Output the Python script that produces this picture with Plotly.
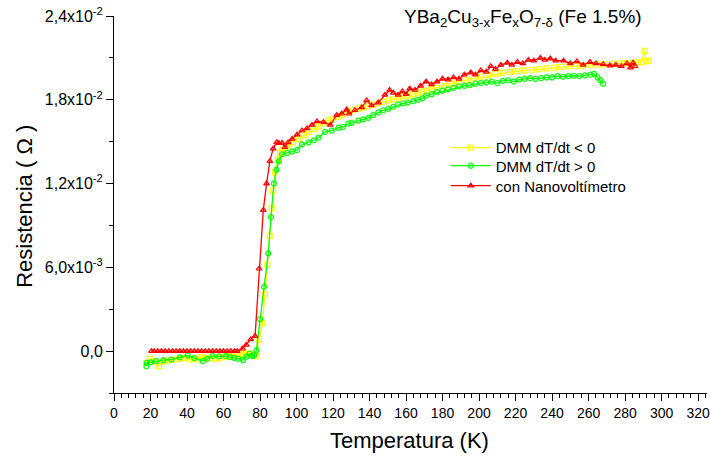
import plotly.graph_objects as go

# Temperature (K) and resistance (in units of 1e-3 ohm)
yellow_T = [17.8, 19.6, 22.3, 24.7, 27.8, 30.5, 33.2, 36, 38.6, 41.4, 43.5, 45.9, 47.7, 50, 52.2, 55, 57.5, 60.4, 63, 65.8,
            68, 70.4, 72, 74, 76, 78, 79.5, 81.3, 82.7, 84, 85.3, 86.4, 87.2, 88.2, 89.8, 90.9, 92, 93, 94.5, 95.8,
            98, 101.2, 104, 106.7, 109.5, 112.1, 115, 117.5, 120, 123, 125.5, 128.4, 131, 133.9, 136.5, 139.3, 142, 144.8, 147.5, 150.2,
            153, 155.6, 158.5, 161, 164, 166.5, 169, 171, 174, 177, 181, 185, 189, 193, 197, 201, 205, 209, 213, 217,
            221, 225, 229, 233, 237, 241, 245, 249, 253, 257, 261, 265, 269, 273, 277, 281, 284, 287, 289, 290.8, 291.5, 293]
yellow_R = [-0.84, -0.55, -0.72, -1.08, -0.72, -0.65, -0.6, -0.55, -0.48, -0.6, -0.55, -0.6, -0.43, -0.5, -0.48, -0.55, -0.5, -0.43, -0.35, -0.24,
            -0.3, -0.24, -0.2, -0.17, -0.25, -0.36, 0.84, 2.0, 4.07, 6.2, 8.25, 10.24, 11.5, 12.8, 13.7, 14.2, 14.4, 14.6, 14.7, 14.8,
            14.95, 15.2, 15.45, 15.7, 15.9, 16.1, 16.3, 16.5, 16.6, 16.8, 16.95, 17.1, 17.25, 17.35, 17.45, 17.55, 17.65, 17.75, 17.85, 17.95,
            18.05, 18.15, 18.25, 18.3, 18.4, 18.5, 18.6, 18.65, 18.75, 18.85, 19.0, 19.15, 19.3, 19.4, 19.55, 19.65, 19.75, 19.85, 19.95, 20.0,
            20.05, 20.1, 20.15, 20.2, 20.25, 20.3, 20.35, 20.4, 20.42, 20.45, 20.5, 20.52, 20.55, 20.58, 20.6, 20.62, 20.65, 20.68, 20.7, 21.5, 20.75, 20.8]

green_T = [17.8, 17.9, 20, 23.2, 27, 31.4, 36, 40.4, 44, 48.6, 51, 54, 57.5, 61.3, 63.5, 65.8, 68, 70.7, 72.5, 74.4,
           75.8, 76.8, 78, 80, 82.2, 84.5, 86, 87.6, 89, 90.3, 92.1, 94.9, 97.6, 100.3, 103, 106.7, 109.5, 112.1, 115.7, 119.3,
           123, 125.5, 128.4, 130.2, 133.9, 136.5, 139.3, 142, 144.8, 147.5, 150.2, 153, 155.6, 158.5, 161, 164, 166.5, 169, 171, 174,
           177, 180, 183, 186, 189, 192, 195, 198, 201, 204, 207, 210, 213, 216, 219, 222, 225, 228, 231, 234,
           237, 240, 243, 246, 249, 252, 255, 258, 261, 263, 265, 266.5, 268]
green_R = [-1.08, -0.84, -0.8, -0.72, -0.65, -0.6, -0.45, -0.31, -0.5, -0.72, -0.55, -0.36, -0.38, -0.36, -0.42, -0.48, -0.55, -0.65, -0.4, -0.17,
           -0.36, -0.3, 0.05, 2.3, 4.6, 7.0, 9.6, 12.0, 13.0, 13.6, 14.1, 14.2, 14.3, 14.4, 14.8, 14.95, 15.1, 15.3, 15.7, 15.8,
           16.0, 16.05, 16.3, 16.35, 16.5, 16.6, 16.7, 16.9, 17.1, 17.25, 17.35, 17.5, 17.65, 17.75, 17.8, 17.9, 18.0, 18.1, 18.3, 18.4,
           18.55, 18.65, 18.75, 18.85, 18.95, 19.0, 19.05, 19.15, 19.2, 19.25, 19.3, 19.2, 19.35, 19.4, 19.3, 19.45, 19.5, 19.55, 19.5, 19.55,
           19.6, 19.6, 19.7, 19.65, 19.7, 19.72, 19.7, 19.75, 19.8, 19.85, 19.6, 19.4, 19.15]

red_T = [20.5, 22, 24, 26, 28, 30, 32, 34, 36, 38, 40, 42, 44, 46, 48, 50, 52, 54, 56, 58,
         60, 62, 64, 66, 67.5, 70.4, 72.5, 74.9, 77.3, 79.5, 81.8, 83.6, 85.4, 87.2, 89.1, 90.3, 92.1, 93.6, 95.4, 97.6,
         100.3, 103, 105.7, 108.5, 111.2, 114.8, 118.5, 122, 124.8, 127.5, 128.8, 132, 135.7, 138.4, 141.1, 144.8, 148.4, 151, 153, 155.6,
         158, 160, 162, 165, 168, 171, 174, 177, 180, 183, 186, 189, 192, 195.5, 198, 201, 204, 206.4, 209, 212,
         215.5, 218, 221, 224, 227, 230, 233.6, 236, 239, 242, 246.3, 250, 253.6, 257, 260.8, 264, 268, 271.7, 275, 278,
         281, 283, 284.4, 285.5]
red_R = [0.0, 0.0, 0.0, 0.0, 0.0, 0.0, 0.0, 0.0, 0.0, 0.0, 0.0, 0.0, 0.0, 0.0, 0.0, 0.0, 0.0, 0.0, 0.0, 0.0,
         0.0, 0.0, 0.0, 0.0, 0.0, 0.17, 0.45, 0.84, 1.08, 5.9, 10.1, 12.0, 13.6, 14.5, 14.95, 14.9, 14.9, 14.6, 14.95, 15.2,
         15.5, 15.8, 15.95, 16.2, 16.45, 16.4, 16.2, 16.9, 17.0, 17.3, 17.0, 17.25, 17.45, 17.95, 17.6, 17.8, 18.35, 18.7, 18.5, 18.35,
         18.6, 18.4, 18.8, 18.7, 19.0, 19.3, 19.1, 19.3, 19.5, 19.45, 19.6, 19.5, 19.8, 19.95, 19.8, 20.1, 20.0, 20.4, 20.2, 20.5,
         20.65, 20.5, 20.7, 20.6, 20.85, 20.8, 21.0, 20.85, 20.95, 20.8, 20.8, 20.6, 20.75, 20.5, 20.7, 20.6, 20.55, 20.45, 20.5, 20.4,
         20.6, 20.3, 20.65, 20.4]

x_ticks = [0, 20, 40, 60, 80, 100, 120, 140, 160, 180, 200, 220, 240, 260, 280, 300, 320]
y_tick_vals = [0.0, 0.006, 0.012, 0.018, 0.024]
y_tick_text = ["0,0", "6,0x10<sup>-3</sup>", "1,2x10<sup>-2</sup>", "1,8x10<sup>-2</sup>", "2,4x10<sup>-2</sup>"]

series_names = ["DMM dT/dt < 0", "DMM dT/dt > 0", "con Nanovoltímetro"]

UNIT = 1e-3
fig = go.Figure()
fig.add_trace(go.Scatter(x=yellow_T, y=[v * UNIT for v in yellow_R], name=series_names[0], mode="lines+markers",
                         legend="legend",
                         line=dict(color="#FFFF00", width=1.3),
                         marker=dict(symbol="square-open", size=5, color="#FFFF00", line=dict(width=1.2))))
fig.add_trace(go.Scatter(x=green_T, y=[v * UNIT for v in green_R], name=series_names[1], mode="lines+markers",
                         legend="legend2",
                         line=dict(color="#00FF00", width=1.3),
                         marker=dict(symbol="circle-open", size=5, color="#00FF00", line=dict(width=1.2))))
fig.add_trace(go.Scatter(x=red_T, y=[v * UNIT for v in red_R], name=series_names[2], mode="lines+markers",
                         legend="legend3",
                         line=dict(color="#FF0000", width=1.3),
                         marker=dict(symbol="triangle-up-open", size=5, color="#FF0000", line=dict(width=1.2))))

leg_common = dict(xanchor="left", yanchor="top", bgcolor="rgba(0,0,0,0)", font=dict(size=15), itemwidth=40)

fig.update_layout(
    width=710, height=461,
    margin=dict(l=114, r=3, t=16, b=68, autoexpand=False),
    paper_bgcolor="white", plot_bgcolor="white",
    font=dict(family="Arial, Liberation Sans, sans-serif", color="black", size=14),
    showlegend=True,
    legend=dict(x=0.5595, y=0.694, **leg_common),
    legend2=dict(x=0.5595, y=0.646, **leg_common),
    legend3=dict(x=0.5595, y=0.593, **leg_common),
    annotations=[
        dict(text="YBa<sub>2</sub>Cu<sub>3-x</sub>Fe<sub>x</sub>O<sub>7-δ</sub> (Fe 1.5%)",
             xref="paper", yref="paper", x=0.690, y=0.995, xanchor="center", yanchor="middle",
             showarrow=False, font=dict(size=19)),
        dict(text="Temperatura (K)", xref="paper", yref="paper", x=0.499, y=-0.125,
             xanchor="center", yanchor="middle", showarrow=False, font=dict(size=22)),
        dict(text="Resistencia ( Ω )", xref="paper", yref="paper", x=-0.152, y=0.496,
             xanchor="center", yanchor="middle", showarrow=False, textangle=-90, font=dict(size=22)),
    ],
)
fig.update_xaxes(range=[0, 324.9], automargin=False, tickmode="array", tickvals=x_ticks, ticks="outside", ticklen=7, tickwidth=1,
                 tickcolor="black", showline=True, linecolor="black", linewidth=1, showgrid=False, zeroline=False,
                 ticklabeloverflow="allow",
                 minor=dict(dtick=4, ticks="outside", ticklen=4, tickcolor="black", showgrid=False),
                 tickfont=dict(size=14))
fig.update_yaxes(range=[-0.003, 0.024], automargin=False, tickmode="array", tickvals=y_tick_vals, ticktext=y_tick_text,
                 ticks="outside", ticklen=7, tickwidth=1, tickcolor="black", showline=True, linecolor="black",
                 linewidth=1, showgrid=False, zeroline=False, ticklabeloverflow="allow",
                 minor=dict(dtick=0.003, tick0=0, ticks="outside", ticklen=4, tickcolor="black", showgrid=False),
                 tickfont=dict(size=16))

fig.write_html("out.html", config={"displayModeBar": False},
               post_script="document.body.style.margin='0px';document.body.style.padding='0px';")
